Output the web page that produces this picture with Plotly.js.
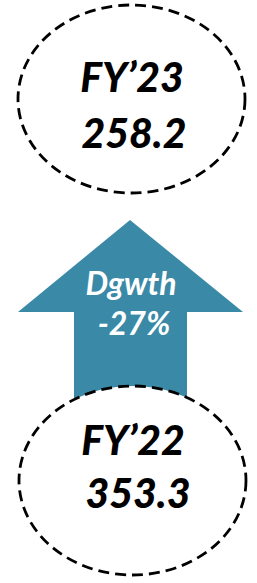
<!DOCTYPE html>
<html><head><meta charset="utf-8">
<script src="https://cdn.plot.ly/plotly-3.0.1.min.js"></script>
<style>html,body{margin:0;padding:0;background:#fff;}#c{width:257px;height:583px;}</style>
</head><body><div id="c"></div>
<script>
const years = ["FY\u201923", "FY\u201922"];
const values = [258.2, 353.3];
const growthLabel = "Dgwth";
const growthPct = -27;

const W = 257, H = 583;
const font = "Lato, 'Open Sans', sans-serif";
const traces = [
  {x:[132,133], y:[82,445], mode:"text", text:years, textposition:"middle center",
   textfont:{family:font, size:41, color:"#000", weight:900, style:"italic"}, hoverinfo:"skip"},
  {x:[134,138], y:[138,498], mode:"text", text:values.map(v=>v.toFixed(1)), textposition:"middle center",
   textfont:{family:font, size:41, color:"#000", weight:900, style:"italic"}, hoverinfo:"skip"},
  {x:[131,134], y:[287,327], mode:"text", text:[growthLabel, growthPct+"%"], textposition:"middle center",
   textfont:{family:font, size:32, color:"#fff", weight:"bold", style:"italic"}, hoverinfo:"skip"}
];
const dash = "11px,6px";
const layout = {
  width:W, height:H, margin:{l:0,r:0,t:0,b:0},
  paper_bgcolor:"#fff", plot_bgcolor:"#fff", showlegend:false,
  xaxis:{range:[0,W], visible:false, fixedrange:true},
  yaxis:{range:[H,0], visible:false, fixedrange:true},
  shapes:[
    {type:"circle", x0:18, x1:245, y0:5, y1:193, line:{color:"#000", width:2.8, dash:dash}, fillcolor:"rgba(0,0,0,0)", layer:"below"},
    {type:"path", path:"M 130 220 L 243 312 L 187 312 L 187 420 L 74 420 L 74 312 L 18 312 Z",
     fillcolor:"#3A8AA7", line:{width:0}, layer:"below"},
    {type:"circle", x0:19, x1:246, y0:386, y1:575, line:{color:"#000", width:2.8, dash:dash}, fillcolor:"#fff", layer:"below"}
  ]
};
Plotly.newPlot("c", traces, layout, {staticPlot:true, displayModeBar:false});
</script></body></html>
